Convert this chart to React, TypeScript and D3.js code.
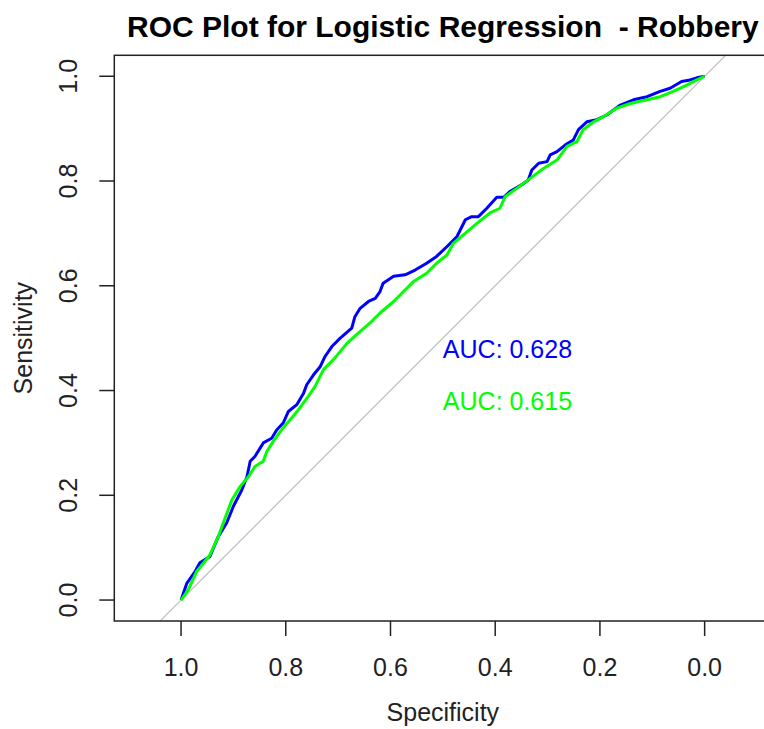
import { scaleLinear, line } from "d3";

// specificity / sensitivity pairs
const blueSpec = [1, 0.989, 0.973, 0.964, 0.945, 0.929, 0.913, 0.9, 0.884, 0.874, 0.868, 0.859, 0.849, 0.843, 0.827, 0.817, 0.805, 0.795, 0.779, 0.766, 0.76, 0.747, 0.734, 0.725, 0.712, 0.696, 0.674, 0.668, 0.658, 0.642, 0.629, 0.62, 0.614, 0.594, 0.572, 0.553, 0.531, 0.512, 0.492, 0.473, 0.457, 0.445, 0.432, 0.416, 0.397, 0.384, 0.372, 0.349, 0.337, 0.33, 0.317, 0.301, 0.295, 0.282, 0.266, 0.251, 0.241, 0.225, 0.206, 0.187, 0.161, 0.136, 0.11, 0.085, 0.066, 0.044, 0.028, 0.015, 0];
const blueSens = [0, 0.032, 0.055, 0.071, 0.083, 0.121, 0.147, 0.179, 0.21, 0.236, 0.265, 0.274, 0.29, 0.3, 0.309, 0.325, 0.338, 0.36, 0.373, 0.395, 0.411, 0.43, 0.446, 0.465, 0.484, 0.5, 0.519, 0.541, 0.557, 0.57, 0.576, 0.589, 0.605, 0.618, 0.621, 0.63, 0.643, 0.656, 0.675, 0.694, 0.726, 0.732, 0.732, 0.748, 0.769, 0.769, 0.78, 0.793, 0.802, 0.821, 0.834, 0.837, 0.85, 0.856, 0.869, 0.878, 0.898, 0.913, 0.917, 0.926, 0.945, 0.955, 0.961, 0.971, 0.977, 0.99, 0.993, 0.997, 1];

const greenSpec = [1, 0.986, 0.97, 0.96, 0.945, 0.929, 0.916, 0.903, 0.887, 0.871, 0.859, 0.843, 0.836, 0.824, 0.808, 0.792, 0.776, 0.757, 0.744, 0.728, 0.709, 0.683, 0.661, 0.639, 0.62, 0.594, 0.575, 0.556, 0.531, 0.512, 0.492, 0.48, 0.454, 0.435, 0.41, 0.391, 0.381, 0.359, 0.333, 0.308, 0.282, 0.263, 0.244, 0.232, 0.212, 0.193, 0.168, 0.142, 0.11, 0.085, 0.06, 0.034, 0.015, 0];
const greenSens = [0, 0.02, 0.055, 0.067, 0.086, 0.121, 0.156, 0.191, 0.217, 0.236, 0.255, 0.265, 0.284, 0.303, 0.325, 0.344, 0.363, 0.389, 0.408, 0.44, 0.459, 0.49, 0.51, 0.529, 0.548, 0.57, 0.589, 0.608, 0.624, 0.643, 0.659, 0.681, 0.703, 0.719, 0.739, 0.748, 0.77, 0.786, 0.805, 0.824, 0.84, 0.866, 0.875, 0.898, 0.913, 0.923, 0.939, 0.948, 0.955, 0.961, 0.971, 0.983, 0.993, 1];

const ticks = [1.0, 0.8, 0.6, 0.4, 0.2, 0.0];
const aucLabels = ["AUC: 0.628", "AUC: 0.615"];
const aucY = [0.48, 0.38];
const colors = ["#0000ff", "#00ff00"];

const W = 764;
const H = 729;
const left = 114.3;
const right = 771.4;
const top = 55.3;
const bottom = 621;
const font = "'Liberation Sans', Arial, sans-serif";

export default function App() {
  const x = scaleLinear([1.1275, -0.1275], [left, right]);
  const y = scaleLinear([-0.04, 1.04], [bottom, top]);

  const toPts = (s: number[], v: number[]) => s.map((d, i) => [d, v[i]] as [number, number]);
  const path = line<[number, number]>().x((d) => x(d[0])).y((d) => y(d[1]));
  const series = [toPts(blueSpec, blueSens), toPts(greenSpec, greenSens)];

  return (
    <svg width={W} height={H} style={{ position: "absolute", left: 0, top: 0, background: "#fff" }} fontFamily={font}>
      <defs>
        <clipPath id="plot">
          <rect x={left} y={top} width={right - left} height={bottom - top} />
        </clipPath>
      </defs>
      <text x={(left + right) / 2} y={37} textAnchor="middle" fontSize={30} fontWeight="bold" style={{ whiteSpace: "pre" }}>
        {"ROC Plot for Logistic Regression  - Robbery"}
      </text>

      {/* identity line */}
      <line
        x1={x(1.2)} y1={y(-0.2)} x2={x(-0.2)} y2={y(1.2)}
        stroke="#bebebe" strokeWidth={1.2} clipPath="url(#plot)"
      />

      {series.map((pts, i) => (
        <path key={i} d={path(pts) ?? ""} fill="none" stroke={colors[i]} strokeWidth={3} strokeLinejoin="round" />
      ))}

      {aucLabels.map((t, i) => (
        <text key={t} x={x(0.5)} y={y(aucY[i]) + 9} fontSize={25} fill={colors[i]}>{t}</text>
      ))}

      <rect x={left} y={top} width={right - left} height={bottom - top} fill="none" stroke="#222" strokeWidth={1.5} />

      {/* x axis */}
      {ticks.map((t) => (
        <g key={"x" + t}>
          <line x1={x(t)} x2={x(t)} y1={bottom} y2={bottom + 15} stroke="#222" strokeWidth={1.5} />
          <text x={x(t)} y={675.7} textAnchor="middle" fontSize={25} fill="#222">{t.toFixed(1)}</text>
        </g>
      ))}
      <text x={(left + right) / 2} y={721} textAnchor="middle" fontSize={25} fill="#222">Specificity</text>

      {/* y axis */}
      {ticks.map((t) => (
        <g key={"y" + t}>
          <line x1={left - 15} x2={left} y1={y(t)} y2={y(t)} stroke="#222" strokeWidth={1.5} />
          <text transform={`translate(77.3,${y(t)}) rotate(-90)`} textAnchor="middle" fontSize={25} fill="#222">{t.toFixed(1)}</text>
        </g>
      ))}
      <text transform={`translate(32,${(top + bottom) / 2}) rotate(-90)`} textAnchor="middle" fontSize={25} fill="#222">Sensitivity</text>
    </svg>
  );
}
